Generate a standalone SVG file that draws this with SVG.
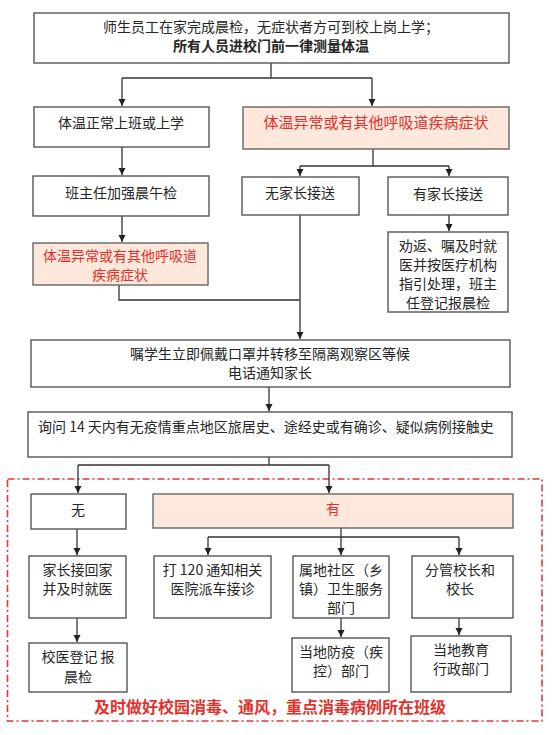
<svg xmlns="http://www.w3.org/2000/svg" width="554" height="735" viewBox="0 0 554 735">
<style>
.box{fill:#ffffff;stroke:#555555;stroke-width:1.4}
.pink{fill:#fde8db;stroke:#666666;stroke-width:1.4}
.t{font-family:"Noto Sans CJK SC","Noto Sans",sans-serif;font-size:14px;fill:#262626;text-anchor:middle}
.r{fill:#e3312b}
.b{font-weight:bold}
.ln{fill:none;stroke:#333333;stroke-width:1.3}
.arr{marker-end:url(#ah)}
</style>
<defs>
<marker id="ah" markerWidth="8" markerHeight="8" refX="7" refY="4" orient="auto" markerUnits="userSpaceOnUse">
<path d="M0,0.5 L7,4 L0,7.5 Z" fill="#222222"/>
</marker>
</defs>
<rect width="554" height="735" fill="#ffffff"/>

<g id="region">
<rect x="7.5" y="479" width="534.5" height="242" fill="none" stroke="#e0383b" stroke-width="1.6" stroke-dasharray="7,3,2,3"/>
<text class="t r b" x="270" y="713" style="font-size:16px">及时做好校园消毒、通风，重点消毒病例所在班级</text>
</g>

<g id="connectors">
<path class="ln" d="M271,63 V78 M122,78 H372"/>
<path class="ln arr" d="M122,78 V106"/>
<path class="ln arr" d="M372,78 V106"/>
<path class="ln arr" d="M122,147 V175"/>
<path class="ln" d="M373,149 V166 M300,166 H449"/>
<path class="ln arr" d="M300,166 V176"/>
<path class="ln arr" d="M449,166 V176"/>
<path class="ln arr" d="M122,216 V242"/>
<path class="ln arr" d="M449,215 V231"/>
<path class="ln" d="M119,285 V300 H300"/>
<path class="ln arr" d="M300,215 V339"/>
<path class="ln arr" d="M269,387 V411"/>
<path class="ln" d="M269,457 V465 M78,465 H329"/>
<path class="ln arr" d="M78,465 V493"/>
<path class="ln arr" d="M329,465 V493"/>
<path class="ln" d="M341,528 V537 M208,537 H459"/>
<path class="ln arr" d="M208,537 V555"/>
<path class="ln arr" d="M341,537 V555"/>
<path class="ln arr" d="M459,537 V555"/>
<path class="ln arr" d="M77,529 V555"/>
<path class="ln arr" d="M77,618 V642"/>
<path class="ln arr" d="M341,618 V637"/>
<path class="ln arr" d="M459,618 V635"/>
</g>

<g id="n_top">
<rect class="box" x="34" y="13" width="475" height="50"/>
<text class="t" x="271" y="32">师生员工在家完成晨检，无症状者方可到校上岗上学；</text>
<text class="t b" x="271" y="51">所有人员进校门前一律测量体温</text>
</g>
<g id="n_normal">
<rect class="box" x="34" y="107" width="175" height="40"/>
<text class="t" x="121" y="128">体温正常上班或上学</text>
</g>
<g id="n_abnormal">
<rect class="pink" x="243" y="107" width="266" height="42"/>
<text class="t r" x="376" y="128" style="font-size:15px">体温异常或有其他呼吸道疾病症状</text>
</g>
<g id="n_teacher">
<rect class="box" x="33" y="176" width="176" height="40"/>
<text class="t" x="121" y="198">班主任加强晨午检</text>
</g>
<g id="n_noparent">
<rect class="box" x="242" y="177" width="117" height="38"/>
<text class="t" x="300" y="198">无家长接送</text>
</g>
<g id="n_parent">
<rect class="box" x="388" y="177" width="120" height="38"/>
<text class="t" x="448" y="199">有家长接送</text>
</g>
<g id="n_abnormal2">
<rect class="pink" x="33" y="243" width="175" height="42"/>
<text class="t r" x="120" y="261">体温异常或有其他呼吸道</text>
<text class="t r" x="120" y="280">疾病症状</text>
</g>
<g id="n_return">
<rect class="box" x="388" y="232" width="120" height="80"/>
<text class="t" x="448" y="251">劝返、嘱及时就</text>
<text class="t" x="448" y="270">医并按医疗机构</text>
<text class="t" x="448" y="289">指引处理，班主</text>
<text class="t" x="448" y="308">任登记报晨检</text>
</g>
<g id="n_mask">
<rect class="box" x="31" y="340" width="479" height="47"/>
<text class="t" x="270" y="359">嘱学生立即佩戴口罩并转移至隔离观察区等候</text>
<text class="t" x="270" y="378">电话通知家长</text>
</g>
<g id="n_ask">
<rect class="box" x="28" y="412" width="484" height="45"/>
<text class="t" x="38" y="432" style="text-anchor:start">询问 14 天内有无疫情重点地区旅居史、途经史或有确诊、疑似病例接触史</text>
</g>
<g id="n_no">
<rect class="box" x="31" y="494" width="95" height="35"/>
<text class="t" x="78" y="515">无</text>
</g>
<g id="n_yes">
<rect class="pink" x="153" y="494" width="360" height="34"/>
<text class="t r" x="333" y="514">有</text>
</g>
<g id="n_home">
<rect class="box" x="29" y="556" width="97" height="62"/>
<text class="t" x="77.5" y="575">家长接回家</text>
<text class="t" x="77.5" y="594">并及时就医</text>
</g>
<g id="n_120">
<rect class="box" x="154" y="556" width="117" height="62"/>
<text class="t" x="212.5" y="575">打 120 通知相关</text>
<text class="t" x="212.5" y="594">医院派车接诊</text>
</g>
<g id="n_community">
<rect class="box" x="293" y="556" width="96" height="62"/>
<text class="t" x="341" y="575">属地社区（乡</text>
<text class="t" x="341" y="594">镇）卫生服务</text>
<text class="t" x="341" y="613">部门</text>
</g>
<g id="n_principal">
<rect class="box" x="412" y="556" width="101" height="62"/>
<text class="t" x="460" y="575">分管校长和</text>
<text class="t" x="460" y="594">校长</text>
</g>
<g id="n_register">
<rect class="box" x="29" y="643" width="98" height="49"/>
<text class="t" x="78" y="662">校医登记 报</text>
<text class="t" x="78" y="682">晨检</text>
</g>
<g id="n_cdc">
<rect class="box" x="292" y="638" width="97" height="54"/>
<text class="t" x="341" y="657">当地防疫（疾</text>
<text class="t" x="341" y="676">控）部门</text>
</g>
<g id="n_edu">
<rect class="box" x="411" y="636" width="100" height="56"/>
<text class="t" x="461" y="655">当地教育</text>
<text class="t" x="461" y="674">行政部门</text>
</g>
</svg>
